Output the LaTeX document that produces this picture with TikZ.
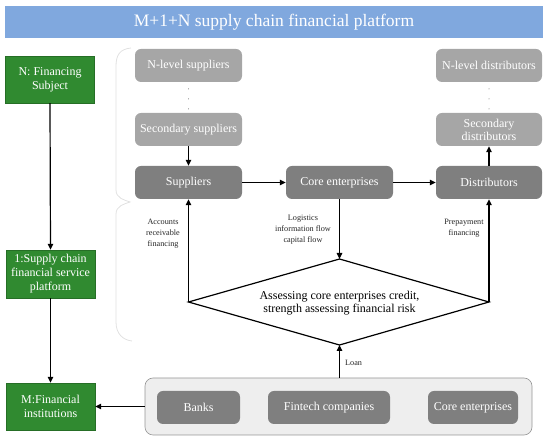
\documentclass[tikz,border=0pt]{standalone}
\usepackage{fontspec}
\setmainfont{Liberation Serif}
\usetikzlibrary{arrows.meta}
\definecolor{titleblue}{RGB}{128,168,222}
\definecolor{subjgreen}{RGB}{48,138,48}
\definecolor{lightbox}{RGB}{166,166,166}
\definecolor{darkbox}{RGB}{127,127,127}
\definecolor{contfill}{RGB}{238,238,238}
\definecolor{contdraw}{RGB}{150,150,150}
\definecolor{bracecol}{RGB}{225,225,225}
\tikzset{
  greenbox/.style={fill=subjgreen, draw=subjgreen!80!black, line width=0.4pt, text=white, minimum width=89pt, minimum height=47pt, align=center, inner sep=1pt, font=\fontsize{12}{14}\selectfont},
  lightrbox/.style={fill=lightbox, draw=none, rounded corners=6pt, text=white, minimum width=107pt, minimum height=33pt, align=center, inner sep=1pt, font=\fontsize{12}{13}\selectfont},
  darkrbox/.style={lightrbox, fill=darkbox},
  conn/.style={line width=1.2pt, -{Triangle[length=6pt,width=5.5pt]}},
  smalllabel/.style={align=center, font=\fontsize{8.2}{11}\selectfont, text=black!85, inner sep=0pt},
}
\begin{document}
\begin{tikzpicture}[x=1pt,y=-1pt]
\useasboundingbox (0,0) rectangle (550,443);
% title
\node[fill=titleblue, minimum width=538pt, minimum height=32pt, text=white, font=\fontsize{17.5}{20}\selectfont, inner sep=0pt] (title) at (274,22) {M+1+N supply chain financial platform};
% left green column
\node[greenbox] (nsub) at (50,79.5) {N: Financing\\Subject};
\node[greenbox, minimum height=48pt] (one) at (50.5,274) {1:Supply chain\\financial service\\platform};
\node[greenbox] (mfin) at (50.5,406.5) {M:Financial\\institutions};
\draw[conn] (nsub.south) -- (one.north);
\draw[conn] (one.south) -- (mfin.north);
% brace
\draw[bracecol, line width=0.8pt] (131,48) .. controls (120,49) and (116,55) .. (116,66) -- (116,190) .. controls (116,198) and (124,200) .. (130,202) .. controls (124,204) and (116,206) .. (116,214) -- (116,322) .. controls (116,334) and (123,340) .. (132,341);
% supply chain boxes
\node[lightrbox] (nls) at (188.5,65.5) {N-level suppliers};
\node[lightrbox] (ss) at (188.5,129.5) {Secondary suppliers};
\node[darkrbox] (sup) at (188.5,182.5) {Suppliers};
\node[darkrbox] (core) at (339.5,182.5) {Core enterprises};
\node[darkrbox, minimum width=106pt] (dist) at (489,182.5) {Distributors};
\node[lightrbox, minimum width=106pt] (sd) at (489,129.5) {Secondary\\distributors};
\node[lightrbox, minimum width=106pt] (nld) at (489,65.5) {N-level distributors};
% dots
\foreach \y in {89,99,109} {
  \fill[black!60] (188.5,\y) circle (0.5pt);
  \fill[black!60] (489,\y) circle (0.5pt);
}
\draw[conn] (ss.south) -- (sup.north);
\draw[conn] (sup.east) -- (core.west);
\draw[conn] (core.east) -- (dist.west);
\draw[conn] (dist.north) -- (sd.south);
% diamond
\coordinate (dl) at (188.5,302);
\coordinate (dt) at (339.5,259);
\coordinate (dr) at (489,302);
\coordinate (db) at (339.5,345);
\draw[line width=1.2pt, fill=white] (dl) -- (dt) -- (dr) -- (db) -- cycle;
\node[align=center, font=\fontsize{12}{13.5}\selectfont, inner sep=0pt] (assess) at (339.5,303) {Assessing core enterprises credit,\\strength assessing financial risk};
\draw[conn] (core.south) -- (dt);
\draw[conn] (dl) -- (sup.south);
\draw[conn] (dr) -- (dist.south);
\node[smalllabel] (acc) at (163,234) {Accounts\\receivable\\financing};
\node[smalllabel] (logi) at (303,230) {Logistics\\information flow\\capital flow};
\node[smalllabel] (prep) at (464,228) {Prepayment\\financing};
% bottom container
\node[fill=contfill, draw=contdraw, line width=0.6pt, rounded corners=8pt, minimum width=387pt, minimum height=57pt] (cont) at (338.5,406.5) {};
\node[darkrbox, minimum width=83pt] (banks) at (198.5,407.5) {Banks};
\node[darkrbox, minimum width=122pt] (fintech) at (329,407.5) {Fintech companies};
\node[darkrbox, minimum width=90pt] (coreb) at (473,407.5) {Core enterprises};
\draw[conn] (db |- cont.north) -- (db);
\node[smalllabel, anchor=west] (loan) at (345,363) {Loan};
\draw[conn] (cont.west) -- (mfin.east);
\end{tikzpicture}
\end{document}
